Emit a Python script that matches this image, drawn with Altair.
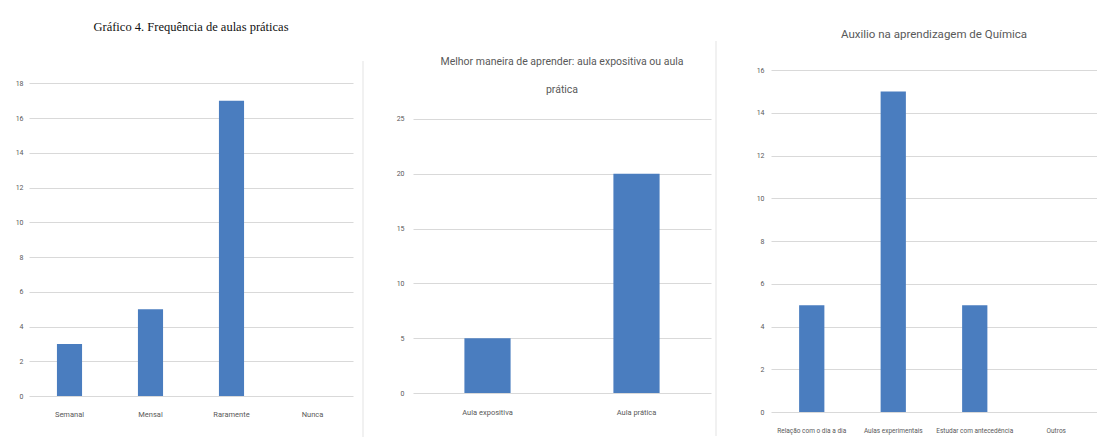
import altair as alt
import pandas as pd

# ---- data ----
cats1 = ["Semanal", "Mensal", "Raramente", "Nunca"]
vals1 = [3, 5, 17, 0]
ticks1 = [0, 2, 4, 6, 8, 10, 12, 14, 16, 18]

cats2 = ["Aula expositiva", "Aula prática"]
vals2 = [5, 20]
ticks2 = [0, 5, 10, 15, 20, 25]

cats3 = ["Relação com o dia a dia", "Aulas experimentais", "Estudar com antecedência", "Outros"]
vals3 = [5, 15, 5, 0]
ticks3 = [0, 2, 4, 6, 8, 10, 12, 14, 16]

title1 = "Gráfico 4. Frequência de aulas práticas"
title2 = ["Melhor maneira de aprender: aula expositiva ou aula", "prática"]
title3 = "Auxilio na aprendizagem de Química"

BLUE = "#4a7dbf"
GRID = "#d9d9d9"
TXT = "#595959"
SANS = "Roboto, sans-serif"


def panel(cats, vals, ticks, ymax, w, h, title, lab_x_pad, lab_y_pad, xfs, sep=None):
    df = pd.DataFrame({"cat": cats, "val": vals})
    bars = alt.Chart(df).mark_bar(color=BLUE).encode(
        x=alt.X("cat:N", sort=cats, title=None,
                scale=alt.Scale(paddingInner=0.69, paddingOuter=0.345),
                axis=alt.Axis(labelAngle=0, domain=False, ticks=False,
                              labelPadding=lab_x_pad, labelFontSize=xfs,
                              labelFont=SANS, labelColor=TXT, labelOverlap=False)),
        y=alt.Y("val:Q", title=None,
                scale=alt.Scale(domain=[0, ymax], nice=False, zero=True),
                axis=alt.Axis(values=ticks, domain=False, ticks=False, grid=True,
                              gridColor=GRID, gridWidth=1, labelPadding=lab_y_pad,
                              labelFontSize=7, labelFont=SANS, labelColor=TXT)),
    )
    layers = [bars]
    if sep is not None:
        sdf = pd.DataFrame({"a": [0]})
        layers.append(
            alt.Chart(sdf).mark_rule(color="#ececec", strokeWidth=1.5).encode(
                x=alt.value(sep[0]), y=alt.value(sep[1]), y2=alt.value(sep[2])
            )
        )
    return alt.layer(*layers).properties(width=w, height=h, title=title)


p1 = panel(cats1, vals1, ticks1, 18.77, 324, 326,
           alt.TitleParams(title1, font="Liberation Serif", fontSize=12.5, color="#111111",
                           fontWeight="normal", offset=13.5, frame="group", anchor="middle",
                           baseline="bottom"),
           14, 6, 7.5, sep=(334, -9, 367))
p2 = panel(cats2, vals2, ticks2, 29.47, 298, 323,
           alt.TitleParams(title2, font=SANS, fontSize=10.5, color=TXT,
                           fontWeight="normal", offset=-65.5, frame="group", anchor="middle",
                           baseline="bottom", lineHeight=28),
           15, 9, 7.5, sep=(303, -29, 366))
p3 = panel(cats3, vals3, ticks3, 16, 326, 342,
           alt.TitleParams(title3, font=SANS, fontSize=11.5, color=TXT,
                           fontWeight="normal", offset=14.5, frame="group", anchor="middle",
                           baseline="bottom"),
           15, 7, 6.5)

chart = alt.hconcat(p1, p2, p3, spacing=60, bounds="flush").properties(
    padding={"left": 15, "top": 21, "right": 0, "bottom": 0},
    background="white",
).configure_view(stroke=None)

chart.save("out.html", embed_options={"renderer": "svg", "actions": False})
